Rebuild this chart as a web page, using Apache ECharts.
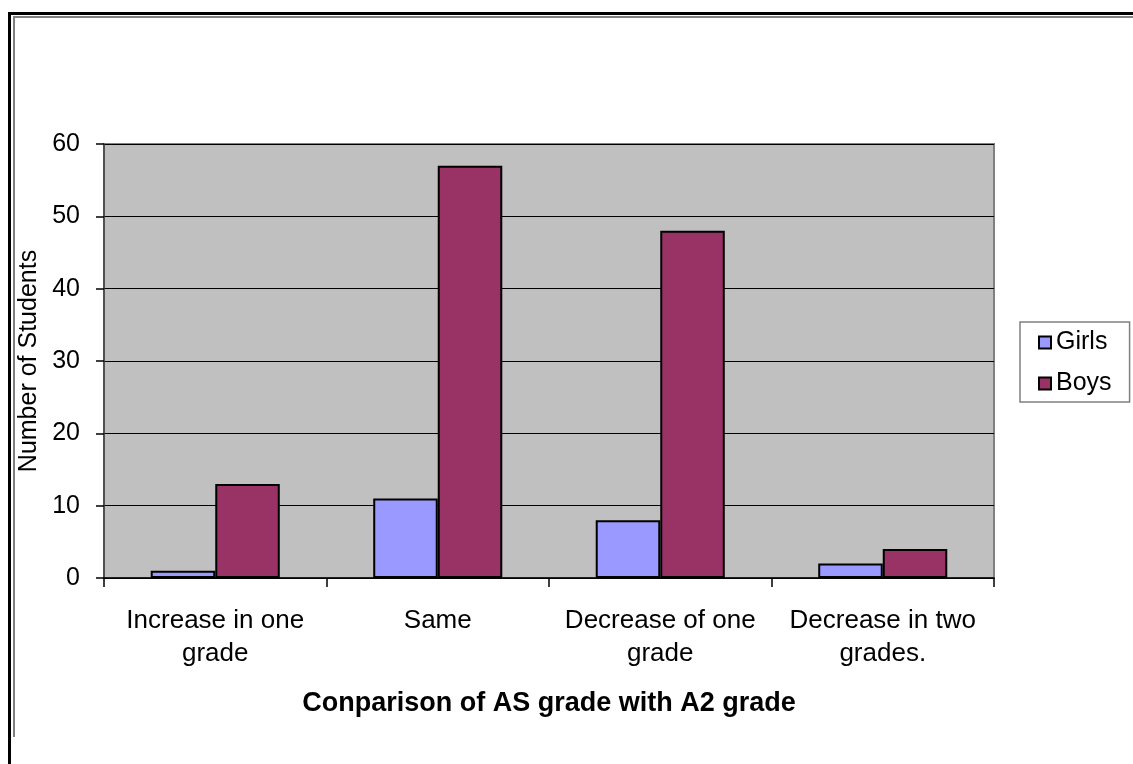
<!DOCTYPE html>
<html>
<head>
<meta charset="utf-8">
<script src="https://cdn.jsdelivr.net/npm/echarts@6/dist/echarts.min.js"></script>
<style>
  html, body { margin: 0; padding: 0; background: #ffffff; }
  #chart { width: 1133px; height: 764px; }
</style>
</head>
<body>
<div id="chart"></div>
<script>
// Grade change categories (AS -> A2)
const categories = [
  'Increase in one\ngrade',
  'Same',
  'Decrease of one\ngrade',
  'Decrease in two\ngrades.'
];
const girls = [1, 11, 8, 2];
const boys = [13, 57, 48, 4];
const yTicks = { min: 0, max: 60, interval: 10 };

const FONT = '"Liberation Sans", Arial, sans-serif';

const chart = echarts.init(document.getElementById('chart'), null, { renderer: 'canvas' });

chart.setOption({
  animation: false,
  backgroundColor: '#ffffff',
  textStyle: { fontFamily: FONT, color: '#000' },
  graphic: [
    // outer black frame (left and top)
    { type: 'polyline', shape: { points: [[9.5, 764], [9.5, 13.5], [1133, 13.5]] },
      style: { stroke: '#000', lineWidth: 3, fill: null } },
    // inner grey chart-area border
    { type: 'polyline', shape: { points: [[14, 737], [14, 17], [1133, 17]] },
      style: { stroke: '#808080', lineWidth: 2, fill: null } }
  ],
  grid: {
    left: 104, right: 139, top: 144, bottom: 186,
    show: true, backgroundColor: '#C0C0C0', borderColor: '#808080', borderWidth: 2
  },
  legend: {
    orient: 'vertical',
    left: 1020, top: 322,
    padding: [8, 18, 6, 18],
    itemGap: 16,
    itemWidth: 12, itemHeight: 12,
    backgroundColor: '#ffffff',
    borderColor: '#808080', borderWidth: 1.5,
    textStyle: { fontFamily: FONT, fontSize: 25, color: '#000' },
    data: [
      { name: 'Girls', icon: 'rect' },
      { name: 'Boys', icon: 'rect' }
    ]
  },
  xAxis: {
    type: 'category',
    data: categories,
    name: 'Conparison of AS grade with A2 grade',
    nameLocation: 'middle',
    nameGap: 112,
    nameTextStyle: { fontFamily: FONT, fontSize: 27, fontWeight: 'bold', color: '#000' },
    axisLine: { lineStyle: { color: '#000', width: 1.5 } },
    axisTick: { show: true, length: 9, lineStyle: { color: '#000', width: 1.5 } },
    axisLabel: {
      interval: 0, margin: 26, fontFamily: FONT, fontSize: 26, color: '#000', lineHeight: 33
    },
    splitLine: { show: false }
  },
  yAxis: {
    type: 'value',
    min: yTicks.min, max: yTicks.max, interval: yTicks.interval,
    name: 'Number of Students',
    nameLocation: 'middle',
    nameGap: 56,
    nameTextStyle: { fontFamily: FONT, fontSize: 25, color: '#000' },
    axisLine: { show: true, lineStyle: { color: '#404040', width: 1.5 } },
    axisTick: { show: true, length: 8, lineStyle: { color: '#000', width: 1.5 } },
    axisLabel: { margin: 24, fontFamily: FONT, fontSize: 25, color: '#000' },
    splitLine: { show: true, lineStyle: { color: '#000', width: 1 } }
  },
  series: [
    {
      name: 'Girls', type: 'bar', data: girls,
      barGap: '0%', barCategoryGap: '42%',
      itemStyle: { color: '#9999FF', borderColor: '#000', borderWidth: 2 }
    },
    {
      name: 'Boys', type: 'bar', data: boys,
      barGap: '0%', barCategoryGap: '42%',
      itemStyle: { color: '#993366', borderColor: '#000', borderWidth: 2 }
    }
  ]
});
</script>
</body>
</html>
